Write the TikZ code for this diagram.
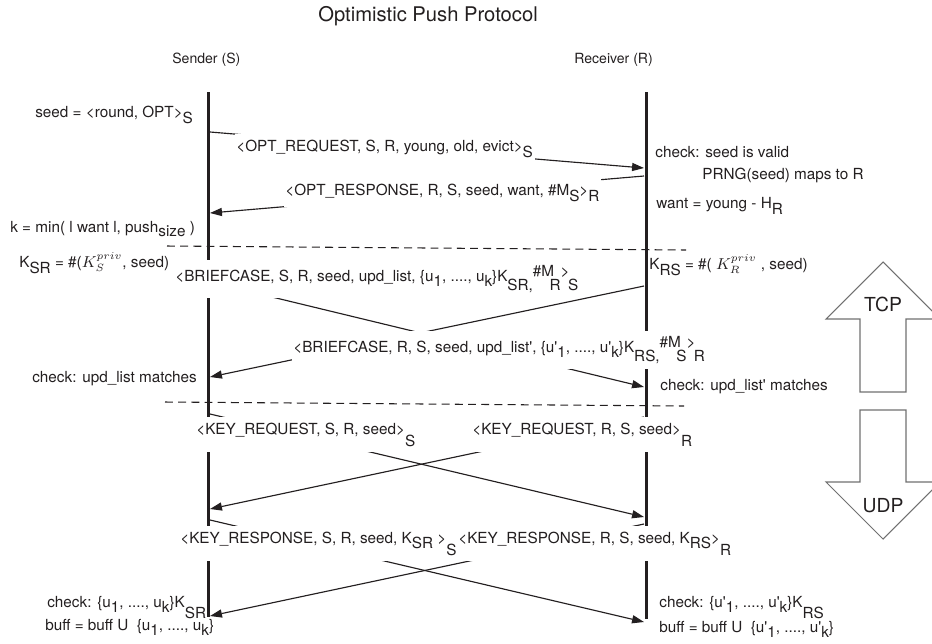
\documentclass[tikz,border=0pt]{standalone}
\usepackage{fontspec}
\setmainfont{TeX Gyre Heros}
\usepackage{tikz}
\usetikzlibrary{arrows.meta}

\definecolor{ink}{HTML}{231F20}
\definecolor{pipegray}{HTML}{707070}

% lowered / raised parts of a message
\newcommand{\lo}[2][0.45em]{\raisebox{-#1}{#2}}
\newcommand{\hi}[1]{\raisebox{0.3em}{#1}}
\newcommand{\prm}{\textquotesingle}

\begin{document}
\begin{tikzpicture}[
  x=0.02cm, y=-0.02cm,
  txt/.style={anchor=base west, inner sep=0pt, text=ink, font=\fontsize{8.7}{10}\selectfont},
  head/.style={txt, font=\fontsize{8}{10}\selectfont},
  msg/.style={txt, fill=white, inner xsep=1pt, inner ysep=3pt, xshift=-1pt},
  life/.style={line width=1.7pt, draw=ink},
  arr/.style={-{Triangle[length=6.8pt,width=4.6pt]}, line width=0.65pt, draw=ink},
  cut/.style={dash pattern=on 4.5pt off 3pt, line width=0.6pt, draw=ink},
  pipe/.style={draw=pipegray, line width=0.6pt},
  proto/.style={font=\fontsize{11}{13}\selectfont, text=ink},
]
\useasboundingbox (0,0) rectangle (932,643);

% Title and the two parties
\node[txt, font=\fontsize{11.5}{13}\selectfont] (title) at (318,21) {Optimistic Push Protocol};
\node[head] (sender) at (172,63) {Sender (S)};
\node[head] (receiver) at (574,63) {Receiver (R)};

% Lifelines
\coordinate (stop) at (208.5,92);
\coordinate (sbot) at (208.5,617);
\coordinate (rtop) at (646,92);
\coordinate (rbot) at (646,619);
\draw[life] (stop) -- (sbot);
\draw[life] (rtop) -- (rbot);

% Message end points
\coordinate (s1) at (210,132);  \coordinate (r1) at (644,168);
\coordinate (r2) at (644,176);  \coordinate (s2) at (210,213);
\coordinate (s3) at (210,282);  \coordinate (r3) at (644,387);
\coordinate (r4) at (644,286);  \coordinate (s4) at (210,377);
\coordinate (s5) at (210,414);  \coordinate (r5) at (644,517);
\coordinate (r6) at (644,417);  \coordinate (s6) at (210,509);
\coordinate (s7) at (210,520);  \coordinate (r7) at (644,622);
\coordinate (r8) at (644,524);  \coordinate (s8) at (210,616);

% Messages
\draw[arr] (s1) -- (r1);
\draw[arr] (r2) -- (s2);
\draw[arr] (s3) -- (r3);
\draw[arr] (r4) -- (s4);
\draw[arr] (s5) -- (r5);
\draw[arr] (r6) -- (s6);
\draw[arr] (s7) -- (r7);
\draw[arr] (r8) -- (s8);

% TCP / UDP borders
\coordinate (cutA1) at (167,246);  \coordinate (cutA2) at (686,250);
\coordinate (cutB1) at (165,402);  \coordinate (cutB2) at (684,406);
\draw[cut] (cutA1) -- (cutA2);
\draw[cut] (cutB1) -- (cutB2);

% Message labels
\node[msg] (optreq) at (236,151) {<OPT\_REQUEST, S, R, young, old, evict>\lo{S}};
\node[msg] (optresp) at (285,195) {<OPT\_RESPONSE, R, S, seed, want, \#M\lo{S}>\lo{R}};
\node[msg] (bcsr) at (175,281) {<BRIEFCASE, S, R, seed, upd\_list, \{u\lo[0.35em]{1}, ...., u\lo[0.35em]{k}\}K\lo[0.6em]{SR,}\hi{\#M}\kern-0.3em\lo[0.6em]{R}\hi{>}\kern-0.1em\lo[0.6em]{S}};
\node[msg] (bcrs) at (293,352) {<BRIEFCASE, R, S, seed, upd\_list\prm, \{u\prm\lo[0.35em]{1}, ...., u\prm\lo[0.35em]{k}\}K\lo[0.6em]{RS,}\hi{\#M}\kern-0.3em\lo[0.6em]{S}\hi{>}\kern-0.1em\lo[0.6em]{R}};
\node[msg] (kqs) at (196,434) {<KEY\_REQUEST, S, R, seed>\lo[0.8em]{S}};
\node[msg] (kqr) at (472,434) {<KEY\_REQUEST, R, S, seed>\lo[0.8em]{R}};
\node[msg] (kpr) at (458,543) {<KEY\_RESPONSE, R, S, seed, K\lo[0.35em]{RS}>\lo[0.8em]{R}};
\node[msg] (kps) at (180,543) {<KEY\_RESPONSE, S, R, seed, K\lo[0.35em]{SR} >\lo[0.8em]{S}};

% Sender side notes
\node[txt] (seedn) at (35,117) {seed = <round, OPT>\lo[0.4em]{S}};
\node[txt] (kmin) at (10,232) {k = min( l want l, push\lo[0.3em]{size} )};
\node[txt] (ksr) at (19,267) {K\lo{SR} = \#($K_S^{priv}$, seed)};
\node[txt] (chks) at (32,382) {check: upd\_list matches};
\node[txt] (chku) at (47,607) {check: \{u\lo[0.35em]{1}, ...., u\lo[0.35em]{k}\}K\lo[0.75em]{SR}};
\node[txt] (buffs) at (45,630) {buff = buff U\ \ \{u\lo[0.35em]{1}, ...., u\lo[0.35em]{k}\}};

% Receiver side notes
\node[txt] (valid) at (655,157) {check: seed is valid};
\node[txt] (prng) at (702,179) {PRNG(seed) maps to R};
\node[txt] (want) at (656,208) {want = young - H\lo{R}};
\node[txt] (krs) at (649,269) {K\lo{RS} = \#( $K_R^{priv}$ , seed)};
\node[txt] (chkr) at (660,390) {check: upd\_list\prm{} matches};
\node[txt] (chkv) at (659,607) {check: \{u\prm\lo[0.35em]{1}, ...., u\prm\lo[0.35em]{k}\}K\lo[0.75em]{RS}};
\node[txt] (buffr) at (659,632) {buff = buff U\ \ \{u\prm\lo[0.35em]{1}, ...., u\prm\lo[0.35em]{k}\}};

% Transport arrows
\draw[pipe] (883,262) -- (826,319) -- (860,319) -- (860,392) -- (906,392)
  -- (906,319) -- (940,319) -- cycle;
\draw[pipe] (860,410) -- (906,410) -- (906,482) -- (940,482) -- (883,539)
  -- (826,482) -- (860,482) -- cycle;
\node[proto] (tcp) at (883,304) {TCP};
\node[proto] (udp) at (883,506) {UDP};

\end{tikzpicture}
\end{document}
